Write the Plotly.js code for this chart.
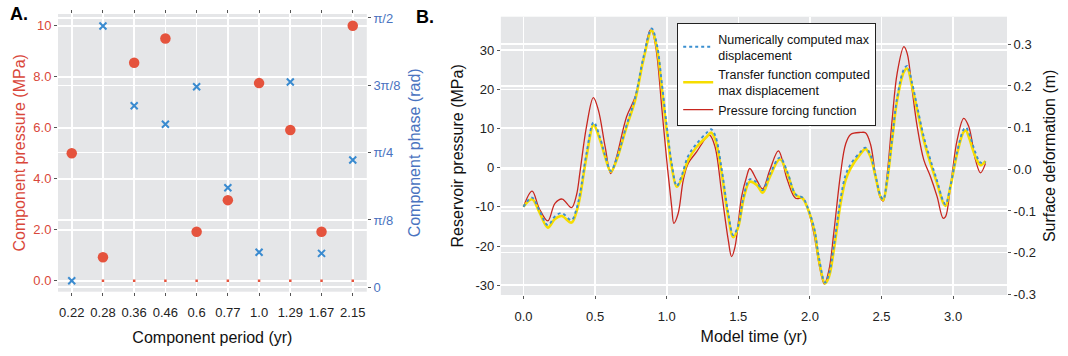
<!DOCTYPE html>
<html>
<head>
<meta charset="utf-8">
<script src="https://cdn.plot.ly/plotly-3.0.1.min.js"></script>
<style>html,body{margin:0;padding:0;background:#fff;}#chart{width:1068px;height:356px;}</style>
</head>
<body>
<div id="chart"></div>
<script>
// ---------- Panel A data ----------
const periods = ['0.22','0.28','0.36','0.46','0.6','0.77','1.0','1.29','1.67','2.15'];
const pressureMPa = [5.0, 0.92, 8.55, 9.5, 1.92, 3.16, 7.75, 5.91, 1.92, 10.0];
const phaseRad = [0.038, 1.524, 1.059, 0.951, 1.170, 0.581, 0.204, 1.197, 0.198, 0.742];
const baseMarks = [0, 0, 0, 0, 0, 0, 0, 0, 0, 0];
const pressTickVals = [0, 2, 4, 6, 8, 10];
const pressTickText = ['0.0', '2.0', '4.0', '6.0', '8.0', '10'];
const phaseTickVals = [0, Math.PI/8, Math.PI/4, 3*Math.PI/8, Math.PI/2];
const phaseTickText = ['0', 'π/8', 'π/4', '3π/8', 'π/2'];

// ---------- Panel B data ----------
const tPress = [0.00,0.06,0.11,0.17,0.22,0.27,0.335,0.37,0.395,0.44,0.488,0.523,0.57,0.61,0.65,0.72,0.78,0.837,0.885,0.90,0.93,0.965,1.0,1.035,1.05,1.08,1.116,1.15,1.21,1.28,1.30,1.337,1.384,1.43,1.453,1.477,1.523,1.558,1.58,1.628,1.67,1.72,1.78,1.842,1.9,1.95,1.98,2.028,2.063,2.10,2.133,2.167,2.214,2.249,2.284,2.353,2.388,2.423,2.458,2.493,2.512,2.54,2.574,2.609,2.656,2.679,2.714,2.749,2.795,2.842,2.888,2.93,2.947,2.981,3.028,3.074,3.109,3.156,3.191,3.226];
const pressureForcing = [-10.0,-6.0,-10.4,-13.6,-9.1,-8.0,-10.2,-7.0,-1.0,10.5,17.9,14.7,5.4,-1.5,2.8,13.0,18.1,27.5,35.1,34.7,29.2,15.6,2.0,-10.0,-14.2,-11.7,-3.1,1.1,4.1,7.9,8.3,5.4,-6.5,-18.5,-22.7,-20.2,-7.4,-2.3,-0.2,-3.1,-5.4,-0.6,4.3,-3.1,-7.8,-7.8,-10.0,-16.8,-24.4,-29.7,-26.1,-16.5,-1.5,6.0,8.5,9.0,8.9,6.0,-2.0,-7.8,-8.5,-1.5,12.2,24.1,30.9,29.2,19.8,10.5,2.0,-2.3,-7.4,-12.9,-12.5,-4.9,7.1,12.6,10.5,2.0,-1.3,1.1];

const tDisp = [0.00,0.06,0.11,0.17,0.22,0.267,0.335,0.37,0.395,0.44,0.49,0.535,0.57,0.61,0.65,0.72,0.78,0.837,0.895,0.93,0.965,1.0,1.035,1.07,1.10,1.15,1.21,1.28,1.31,1.34,1.384,1.43,1.465,1.5,1.54,1.58,1.63,1.67,1.72,1.79,1.842,1.9,1.95,1.98,2.03,2.063,2.105,2.133,2.167,2.214,2.249,2.284,2.353,2.388,2.423,2.458,2.493,2.512,2.54,2.574,2.609,2.656,2.679,2.714,2.749,2.795,2.842,2.888,2.93,2.947,2.981,3.028,3.074,3.09,3.109,3.156,3.191,3.226];
const transferDisp = [-0.090,-0.072,-0.102,-0.140,-0.119,-0.112,-0.128,-0.102,-0.066,0.030,0.106,0.070,0.030,-0.006,0.022,0.102,0.166,0.262,0.333,0.294,0.198,0.094,0.006,-0.042,-0.026,0.022,0.054,0.078,0.088,0.070,-0.010,-0.114,-0.163,-0.138,-0.066,-0.030,-0.038,-0.056,-0.018,0.024,-0.010,-0.062,-0.070,-0.090,-0.146,-0.218,-0.274,-0.258,-0.194,-0.082,-0.026,0.002,0.037,0.049,0.030,-0.018,-0.066,-0.074,-0.026,0.070,0.166,0.234,0.242,0.198,0.142,0.070,0.014,-0.034,-0.080,-0.088,-0.042,0.038,0.090,0.093,0.078,0.030,0.010,0.020];
const numericDisp = [-0.090,-0.068,-0.098,-0.134,-0.113,-0.105,-0.122,-0.095,-0.058,0.038,0.113,0.075,0.033,-0.004,0.025,0.106,0.172,0.268,0.338,0.302,0.210,0.105,0.014,-0.040,-0.020,0.032,0.062,0.088,0.096,0.080,0.000,-0.106,-0.158,-0.134,-0.060,-0.024,-0.032,-0.050,-0.012,0.028,-0.006,-0.060,-0.068,-0.088,-0.142,-0.212,-0.272,-0.252,-0.184,-0.070,-0.014,0.012,0.042,0.052,0.034,-0.014,-0.064,-0.072,-0.022,0.074,0.172,0.240,0.248,0.206,0.150,0.078,0.022,-0.028,-0.076,-0.084,-0.040,0.042,0.096,0.100,0.088,0.040,0.016,0.018];
const timeTicks = [0, 0.5, 1.0, 1.5, 2.0, 2.5, 3.0];
const timeTickText = ['0.0','0.5','1.0','1.5','2.0','2.5','3.0'];
const resTickVals = [-30,-20,-10,0,10,20,30];
const resTickText = ['-30','-20','-10','0','10','20','30'];
const defTickVals = [-0.3,-0.2,-0.1,0,0.1,0.2,0.3];
const defTickText = ['-0.3','-0.2','-0.1','0.0','0.1','0.2','0.3'];

// ---------- layout geometry (pixels) ----------
const W = 1068, H = 356;
const M = {l: 58, r: 61.3, t: 14, b: 61};
const IW = W - M.l - M.r, IH = H - M.t - M.b;
const px = x => (x - M.l) / IW;
const py = y => (H - M.b - y) / IH;

const RED = '#e5533d', REDTXT = '#d9473a', BLUE = '#3a8bd0', BLUETXT = '#4a73c0';
const GRID = '#ffffff';
const FONT = 'Liberation Sans, Arial, sans-serif';

const traces = [
  {x: periods, y: baseMarks, xaxis: 'x', yaxis: 'y', mode: 'markers', type: 'scatter',
   marker: {symbol: 'square', size: 2.5, color: RED}, showlegend: false, hoverinfo: 'skip'},
  {x: periods, y: pressureMPa, xaxis: 'x', yaxis: 'y', mode: 'markers', type: 'scatter',
   marker: {symbol: 'circle', size: 10.5, color: RED}, showlegend: false, name: 'Component pressure'},
  {x: periods, y: phaseRad, xaxis: 'x', yaxis: 'y2', mode: 'markers', type: 'scatter',
   marker: {symbol: 'x-thin', size: 7, line: {color: BLUE, width: 2}}, showlegend: false, name: 'Component phase'},

  {x: tPress, y: pressureForcing, xaxis: 'x2', yaxis: 'y3', mode: 'lines', type: 'scatter',
   line: {color: '#c8261f', width: 1.3, shape: 'spline', smoothing: 1}, name: 'Pressure forcing function', legendrank: 3},
  {x: tDisp, y: transferDisp, xaxis: 'x2', yaxis: 'y4', mode: 'lines', type: 'scatter',
   line: {color: '#f6dd00', width: 2.6, shape: 'spline', smoothing: 1}, name: 'Transfer function computed<br>max displacement', legendrank: 2},
  {x: tDisp, y: numericDisp, xaxis: 'x2', yaxis: 'y4', mode: 'lines', type: 'scatter',
   line: {color: '#3a8fd0', width: 1.9, dash: 'dot', shape: 'spline', smoothing: 1}, name: 'Numerically computed max<br>displacement', legendrank: 1}
];

const tickFont = {family: FONT, size: 13, color: '#222'};
const layout = {
  width: W, height: H,
  margin: M,
  paper_bgcolor: '#ffffff', plot_bgcolor: '#e5e6e8',
  font: {family: FONT, size: 13, color: '#111'},
  showlegend: true,
  legend: {x: px(677), y: py(23), xanchor: 'left', yanchor: 'top',
    bgcolor: '#ffffff', bordercolor: '#222', borderwidth: 1,
    font: {family: FONT, size: 12.5, color: '#111'}, tracegroupgap: 0, itemwidth: 30},
  xaxis: {domain: [0, px(366.7)], anchor: 'y', type: 'category', categoryorder: 'array', categoryarray: periods,
    range: [-0.44, 9.45], showgrid: true, gridcolor: GRID, gridwidth: 1.6, zeroline: false,
    ticks: 'outside', ticklen: 3, tickcolor: '#555', mirror: 'ticks', showline: false,
    tickfont: tickFont, ticklabelstandoff: 6,
    title: {text: 'Component period (yr)', font: {family: FONT, size: 16, color: '#111'}, standoff: 12}},
  yaxis: {domain: [py(291.7), 1], anchor: 'x', range: [-0.43, 10.46], tickvals: pressTickVals, ticktext: pressTickText,
    showgrid: true, gridcolor: GRID, gridwidth: 1.6, zeroline: false, ticks: 'outside', ticklen: 3, tickcolor: '#555',
    tickfont: {family: FONT, size: 13, color: REDTXT},
    title: {text: 'Component pressure (MPa)', font: {family: FONT, size: 16, color: REDTXT}, standoff: 3}},
  yaxis2: {overlaying: 'y', side: 'right', anchor: 'x', range: [-0.0257, 1.594], tickvals: phaseTickVals, ticktext: phaseTickText,
    showgrid: true, gridcolor: GRID, gridwidth: 1.6, zeroline: false, ticks: 'outside', ticklen: 3, tickcolor: '#555',
    tickfont: {family: FONT, size: 13, color: BLUETXT},
    title: {text: 'Component phase (rad)', font: {family: FONT, size: 16, color: BLUETXT}, standoff: 9}},
  xaxis2: {domain: [px(500.7), 1], anchor: 'y3', range: [-0.158, 3.376], tickvals: timeTicks, ticktext: timeTickText,
    showgrid: true, gridcolor: GRID, gridwidth: 1.6, zeroline: false, ticks: 'outside', ticklen: 3, tickcolor: '#555',
    tickfont: tickFont, ticklabelstandoff: 6,
    title: {text: 'Model time (yr)', font: {family: FONT, size: 16, color: '#111'}, standoff: 8}},
  yaxis3: {domain: [0, py(16.7)], anchor: 'x2', range: [-32.5, 38.55], tickvals: resTickVals, ticktext: resTickText,
    showgrid: true, gridcolor: GRID, gridwidth: 1.6, zeroline: false, ticks: 'outside', ticklen: 3, tickcolor: '#555',
    tickfont: tickFont,
    title: {text: 'Reservoir pressure (MPa)', font: {family: FONT, size: 16, color: '#111'}, standoff: 7}},
  yaxis4: {overlaying: 'y3', side: 'right', anchor: 'x2', range: [-0.3017, 0.3662], tickvals: defTickVals, ticktext: defTickText,
    showgrid: true, gridcolor: GRID, gridwidth: 1.6, zeroline: false, ticks: 'outside', ticklen: 3, tickcolor: '#555',
    tickfont: tickFont,
    title: {text: 'Surface deformation (m)', font: {family: FONT, size: 16, color: '#111'}, standoff: 8}},
  annotations: [
    {text: '<b>A.</b>', xref: 'paper', yref: 'paper', x: px(8), y: py(14), xanchor: 'left', yanchor: 'middle',
     showarrow: false, font: {family: FONT, size: 18, color: '#000'}},
    {text: '<b>B.</b>', xref: 'paper', yref: 'paper', x: px(414), y: py(17), xanchor: 'left', yanchor: 'middle',
     showarrow: false, font: {family: FONT, size: 18, color: '#000'}}
  ]
};

Plotly.newPlot('chart', traces, layout, {staticPlot: true, displayModeBar: false});
</script>
</body>
</html>
